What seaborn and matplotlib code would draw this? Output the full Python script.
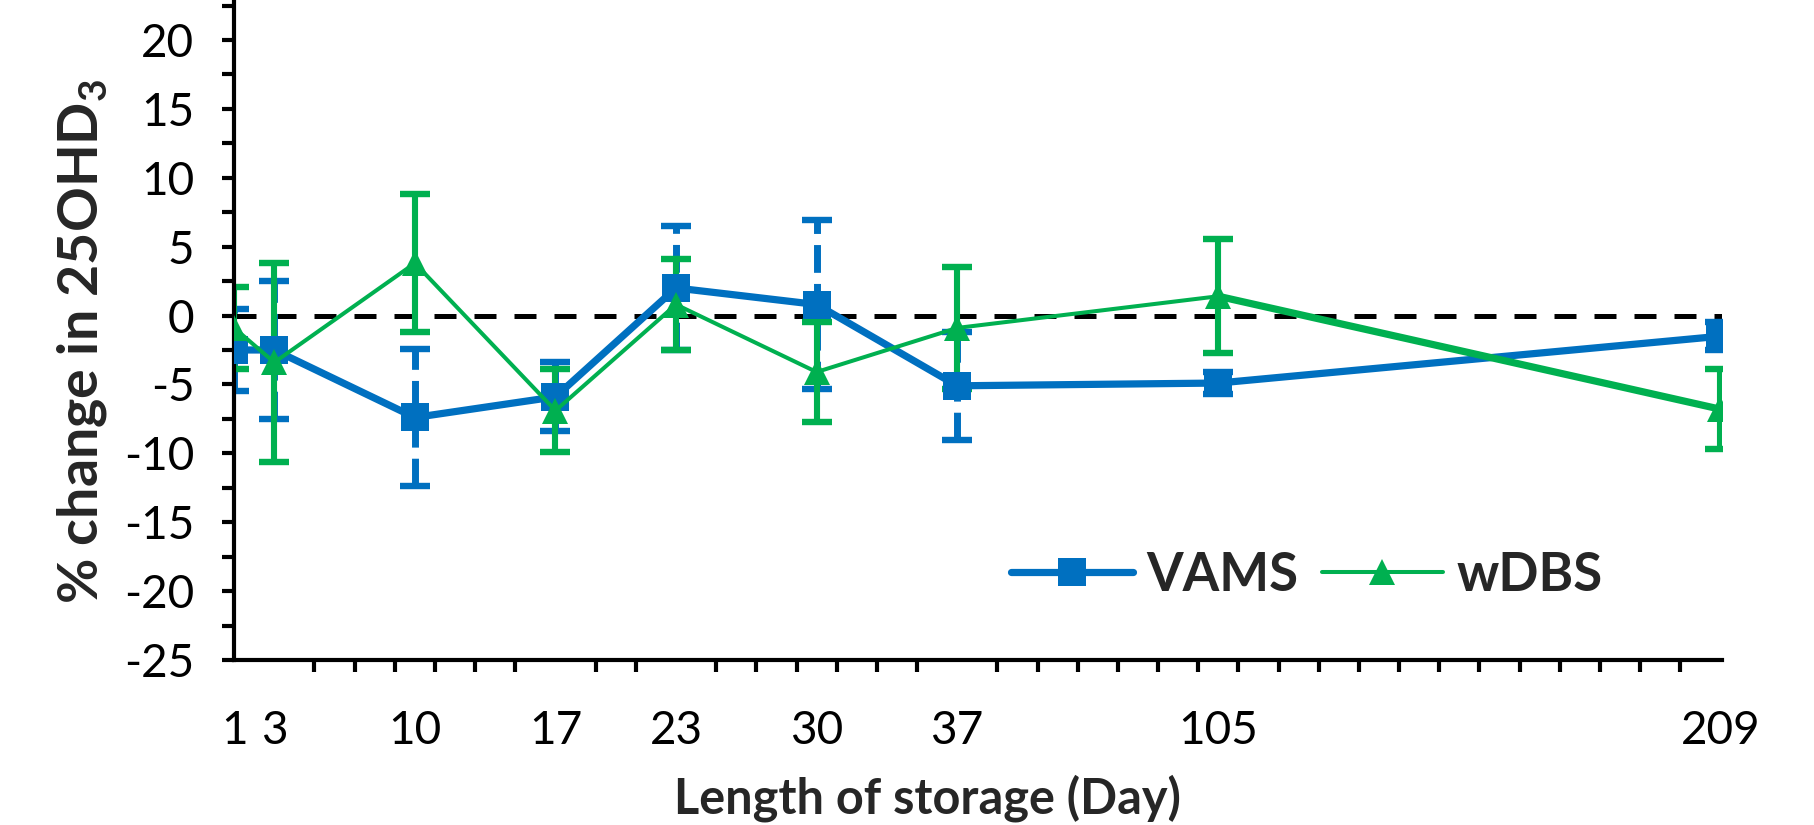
import matplotlib
matplotlib.use("Agg")
import matplotlib.pyplot as plt
import seaborn as sns
import numpy as np
import pandas as pd

# Storage days and where each sits on the category axis
days = [1, 3, 10, 17, 23, 30, 37, 105, 209]
axis_slot = [1, 3, 10, 17, 23, 30, 37, 50, 75]

# Mean % change in 25OHD3 and error (+/-)
vams_mean = [-2.5, -2.5, -7.4, -5.9, 2.0, 0.8, -5.1, -4.9, -1.5]
vams_err = [3.0, 5.0, 5.0, 2.5, 4.5, 6.1, 3.9, 0.8, 1.0]
wdbs_mean = [-0.9, -3.4, 3.8, -6.9, 0.8, -4.1, -0.9, 1.4, -6.8]
wdbs_err = [3.0, 7.2, 5.0, 3.0, 3.3, 3.6, 4.4, 4.15, 2.9]

series_names = ["VAMS", "wDBS"]
y_ticks = [-25, -20, -15, -10, -5, 0, 5, 10, 15, 20]

BLUE = "#0070C0"
GREEN = "#00B050"

sns.set_theme(style="white")
plt.rcParams["font.family"] = ["Lato", "DejaVu Sans"]
plt.rcParams["mathtext.fontset"] = "custom"
plt.rcParams["mathtext.rm"] = "Lato"
plt.rcParams["mathtext.bf"] = "Lato:bold"
plt.rcParams["axes.unicode_minus"] = False

df = pd.DataFrame({
    "slot": axis_slot * 2,
    "value": vams_mean + wdbs_mean,
    "err": vams_err + wdbs_err,
    "series": [series_names[0]] * len(days) + [series_names[1]] * len(days),
})
vams = df[df.series == "VAMS"]
wdbs = df[df.series == "wDBS"]

fig = plt.figure(figsize=(18.15, 8.25), dpi=100)
ax = fig.add_axes([0.129, 0.2, 0.82, 0.8])

# error bars underneath the series
eb = ax.errorbar(vams.slot, vams.value, yerr=vams.err, fmt="none", ecolor=BLUE,
                 elinewidth=5.0, capsize=11, capthick=4.6, zorder=2)
for lc in eb[2]:
    lc.set_linestyle((0, (4.0, 1.6)))
ax.errorbar(wdbs.slot, wdbs.value, yerr=wdbs.err, fmt="none", ecolor=GREEN,
            elinewidth=4.4, capsize=11, capthick=4.6, zorder=2)

# zero reference
ax.axhline(0, color="black", lw=3.6, dashes=(4.4, 3.6), zorder=1.5)

sns.lineplot(data=vams, x="slot", y="value", color=BLUE, lw=5.2, marker="s",
             markersize=20, markeredgewidth=0, ax=ax, zorder=3,
             label="VAMS", estimator=None, sort=False)
sns.lineplot(data=wdbs, x="slot", y="value", color=GREEN, lw=2.9, marker="^",
             markersize=19, markeredgewidth=0, ax=ax, zorder=4,
             label="wDBS", estimator=None, sort=False)
# heavier final wDBS segment
last = wdbs.iloc[-2:]
ax.plot(last.slot, last.value, color=GREEN, lw=5.2, zorder=4, solid_capstyle="round")

ax.set_xlim(1, 75.1)
ax.set_ylim(-25, 22.9)

ax.set_yticks(y_ticks)
ax.set_yticks(np.arange(-22.5, 22.6, 5), minor=True)
ax.set_xticks(axis_slot)
ax.set_xticklabels([str(d) for d in days])
ax.set_xticks(np.arange(1, 76, 2), minor=True)

ax.tick_params(axis="y", which="both", direction="out", length=8.6, width=3,
               color="black", left=True)
ax.tick_params(axis="y", which="major", labelsize=33, pad=20, labelcolor="black")
ax.tick_params(axis="x", which="major", length=0, labelsize=33, pad=36, labelcolor="black")
ax.tick_params(axis="x", which="minor", direction="out", length=8.6, width=3,
               color="black", bottom=True)

for side in ["top", "right"]:
    ax.spines[side].set_visible(False)
for side in ["left", "bottom"]:
    ax.spines[side].set_linewidth(3)
    ax.spines[side].set_color("black")

ax.set_xlabel("")
ax.set_ylabel("")
fig.text(0.045, 0.586, r"% change in 25OHD$_\mathbf{3}$", rotation=90, fontsize=40,
         fontweight="bold", ha="center", va="center")
fig.text(0.511, 0.032, "Length of storage (Day)", fontsize=35, fontweight="bold",
         ha="center", va="center")

leg = ax.legend(loc="center", bbox_to_anchor=(0.72, 0.303), bbox_transform=fig.transFigure,
                ncol=2, frameon=False, prop={"weight": "bold", "size": 38},
                handlelength=2.3, handletextpad=0.25, columnspacing=0.45, markerscale=1.0)

fig.savefig("out.png", dpi=100)
